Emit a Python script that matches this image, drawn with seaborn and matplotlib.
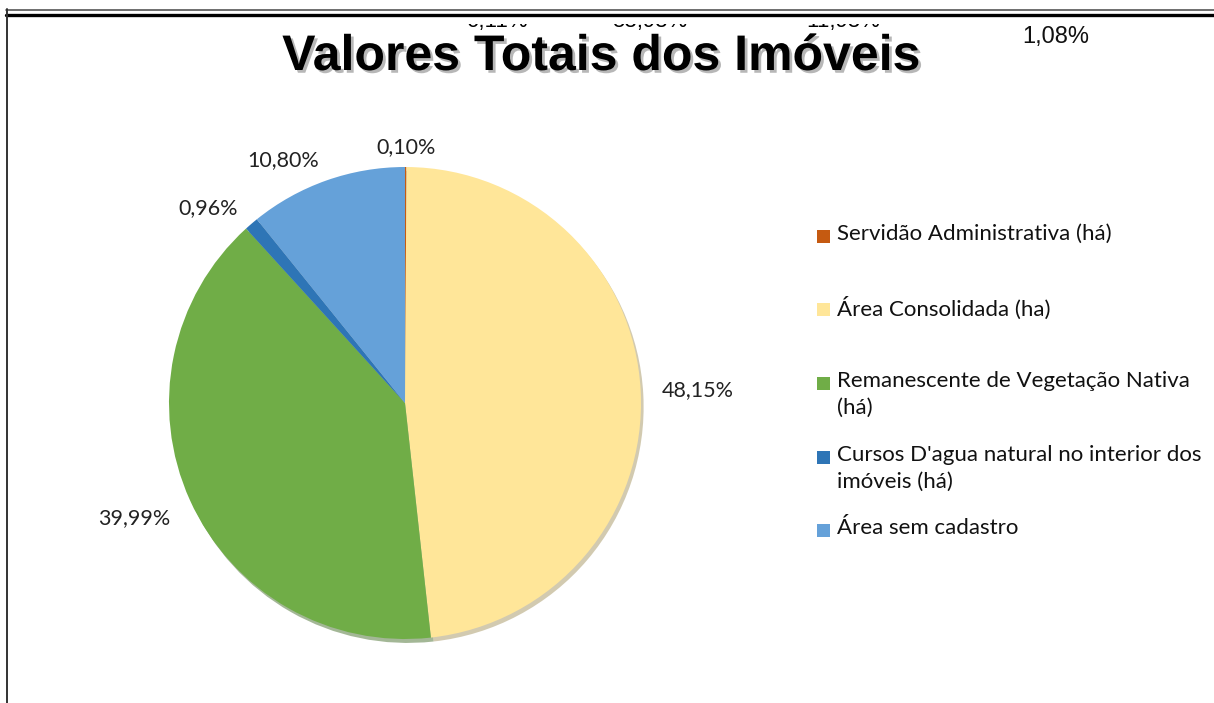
import matplotlib
matplotlib.use("Agg")
import matplotlib.pyplot as plt
import matplotlib.patheffects as pe
from matplotlib.patches import Rectangle
from matplotlib.lines import Line2D
import seaborn as sns

# ---- data ----
categories = [
    "Servidão Administrativa (há)",
    "Área Consolidada (ha)",
    "Remanescente de Vegetação Nativa\n(há)",
    "Cursos D'agua natural no interior dos\nimóveis (há)",
    "Área sem cadastro",
]
values = [0.10, 48.15, 39.99, 0.96, 10.80]
colors = ["#C55A11", "#FFE699", "#70AD47", "#2E75B6", "#65A1D9"]
title = "Valores Totais dos Imóveis"
stray_labels = ["0,11%", "53,93%", "11,93%"]
corner_label = "1,08%"

sns.set_theme(style="white")
plt.rcParams["font.family"] = ["Lato", "DejaVu Sans"]

W, H = 1214, 703
fig = plt.figure(figsize=(W / 100, H / 100), dpi=100)
fig.patch.set_facecolor("white")

def fx(px):
    return px / W

def fy(py):
    return 1 - py / H

# pie axes: center (405, 403), radius 236 px
R = 236
cx, cy = 405, 403
ax = fig.add_axes([fx(cx - R), fy(cy + R), 2 * R / W, 2 * R / H])
ax.set_aspect("equal")
pal = sns.color_palette(colors)
pct_labels = [f"{v:.2f}%".replace(".", ",") for v in values]
wedges, texts = ax.pie(
    values,
    colors=pal,
    startangle=90,
    counterclock=False,
    labels=pct_labels,
    labeldistance=1.09,
    shadow={"ox": 0.008, "oy": -0.012, "shade": 0.35},
    wedgeprops=dict(linewidth=0),
    textprops=dict(fontsize=15.5, color="#222222"),
)
for t in texts:
    x, y = t.get_position()
    if abs(x) < 0.15:
        t.set_ha("center")
        t.set_va("bottom")
        t.set_position((x, y - 0.05))
    elif x < -0.8:
        t.set_position((x, y - 0.04))
ax.set_xlim(-1, 1)
ax.set_ylim(-1, 1)
ax.axis("off")

# title with shadow
fig.text(
    fx(601), fy(70), title, ha="center", va="baseline",
    fontsize=36, fontweight="bold", family=["Liberation Sans", "DejaVu Sans"],
    color="black", zorder=7,
    path_effects=[pe.SimplePatchShadow(offset=(2, -2), shadow_rgbFace="#888888", alpha=0.6), pe.Normal()],
)

# stray partially hidden labels at top (only their lower edge shows)
for lbl, xc in zip(stray_labels, [497, 650, 843]):
    fig.text(fx(xc), fy(27.5), lbl, ha="center", va="baseline", fontsize=16,
             family=["Liberation Sans", "DejaVu Sans"], color="black", zorder=3)
fig.add_artist(Rectangle((0, fy(23.5)), 1, 23.5 / H, transform=fig.transFigure,
                         facecolor="white", edgecolor="none", zorder=5))

fig.text(fx(1056), fy(43), corner_label, ha="center", va="baseline", fontsize=17,
         family=["Liberation Sans Narrow", "Liberation Sans", "DejaVu Sans"], color="#111111",
         zorder=7)

# legend (manual, Excel-style)
leg_y = [236, 309, 383, 457, 530]
for lbl, col, yy in zip(categories, colors, leg_y):
    fig.add_artist(Rectangle((fx(817), fy(yy + 6.5)), 13 / W, 13 / H,
                             transform=fig.transFigure, facecolor=col, edgecolor="none"))
    fig.text(fx(837), fy(yy - 12), lbl, ha="left", va="top", fontsize=16,
             color="#111111", linespacing=1.45)

# frame lines
fig.add_artist(Line2D([fx(6), 1], [fy(9.5), fy(9.5)], transform=fig.transFigure,
                      color="#555555", linewidth=1.2, zorder=8))
fig.add_artist(Line2D([fx(6), 1], [fy(14.5), fy(14.5)], transform=fig.transFigure,
                      color="black", linewidth=2.4, zorder=8))
fig.add_artist(Line2D([fx(6.5), fx(6.5)], [fy(9), 0], transform=fig.transFigure,
                      color="#333333", linewidth=1.4, zorder=8))

fig.savefig("out.png", dpi=100)
